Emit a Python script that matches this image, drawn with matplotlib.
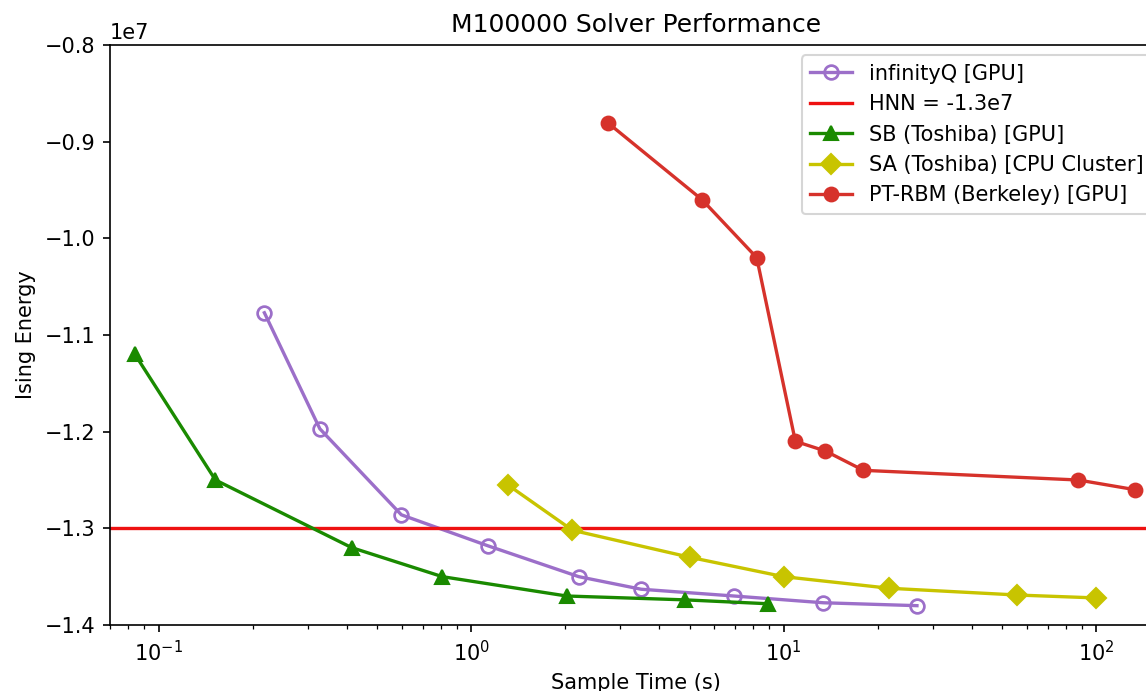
import numpy as np
import matplotlib
matplotlib.use("Agg")
import matplotlib.pyplot as plt

# sample time (s) and Ising energy
iq_time = [0.218, 0.328, 0.598, 1.13, 2.21, 3.50, 6.93, 13.4, 26.7]
iq_energy = [-1.077e7, -1.197e7, -1.286e7, -1.318e7, -1.350e7, -1.363e7, -1.370e7, -1.377e7, -1.380e7]

hnn_energy = -1.3e7

sb_time = [0.084, 0.152, 0.415, 0.809, 2.02, 4.84, 8.89]
sb_energy = [-1.12e7, -1.25e7, -1.32e7, -1.35e7, -1.37e7, -1.374e7, -1.378e7]

sa_time = [1.31, 2.11, 5.02, 10.0, 21.8, 56.0, 100.0]
sa_energy = [-1.255e7, -1.302e7, -1.330e7, -1.350e7, -1.362e7, -1.369e7, -1.372e7]

pt_time = [2.75, 5.48, 8.2, 10.9, 13.6, 18.0, 87.6, 133.0]
pt_energy = [-0.881e7, -0.960e7, -1.020e7, -1.210e7, -1.220e7, -1.240e7, -1.250e7, -1.260e7]

plt.rcParams['lines.markersize'] = 6.6
plt.rcParams['lines.linewidth'] = 1.6

fig = plt.figure(figsize=(1146 / 150, 691 / 150), dpi=150)
ax = fig.add_axes([110 / 1146, 66 / 691, 1052 / 1146, 580 / 691])

ax.plot(iq_time, iq_energy, marker='o', color='#9c6fc9', markerfacecolor='none',
        markeredgewidth=1.3, label='infinityQ [GPU]')
ax.axhline(hnn_energy, color='#ee1111', label='HNN = -1.3e7')
ax.plot(sb_time, sb_energy, marker='^', color='#1a8a00', label='SB (Toshiba) [GPU]')
ax.plot(sa_time, sa_energy, marker='D', color='#c8c400', label='SA (Toshiba) [CPU Cluster]')
ax.plot(pt_time, pt_energy, marker='o', color='#d6322b', label='PT-RBM (Berkeley) [GPU]')

ax.set_xscale('log')
ax.set_xlim(0.0699, 162.4)
ax.set_ylim(-1.4e7, -0.8e7)
ax.set_title('M100000 Solver Performance')
ax.set_xlabel('Sample Time (s)')
ax.set_ylabel('Ising Energy')
ax.legend(loc='upper right')

fig.savefig('out.png', dpi=150)
